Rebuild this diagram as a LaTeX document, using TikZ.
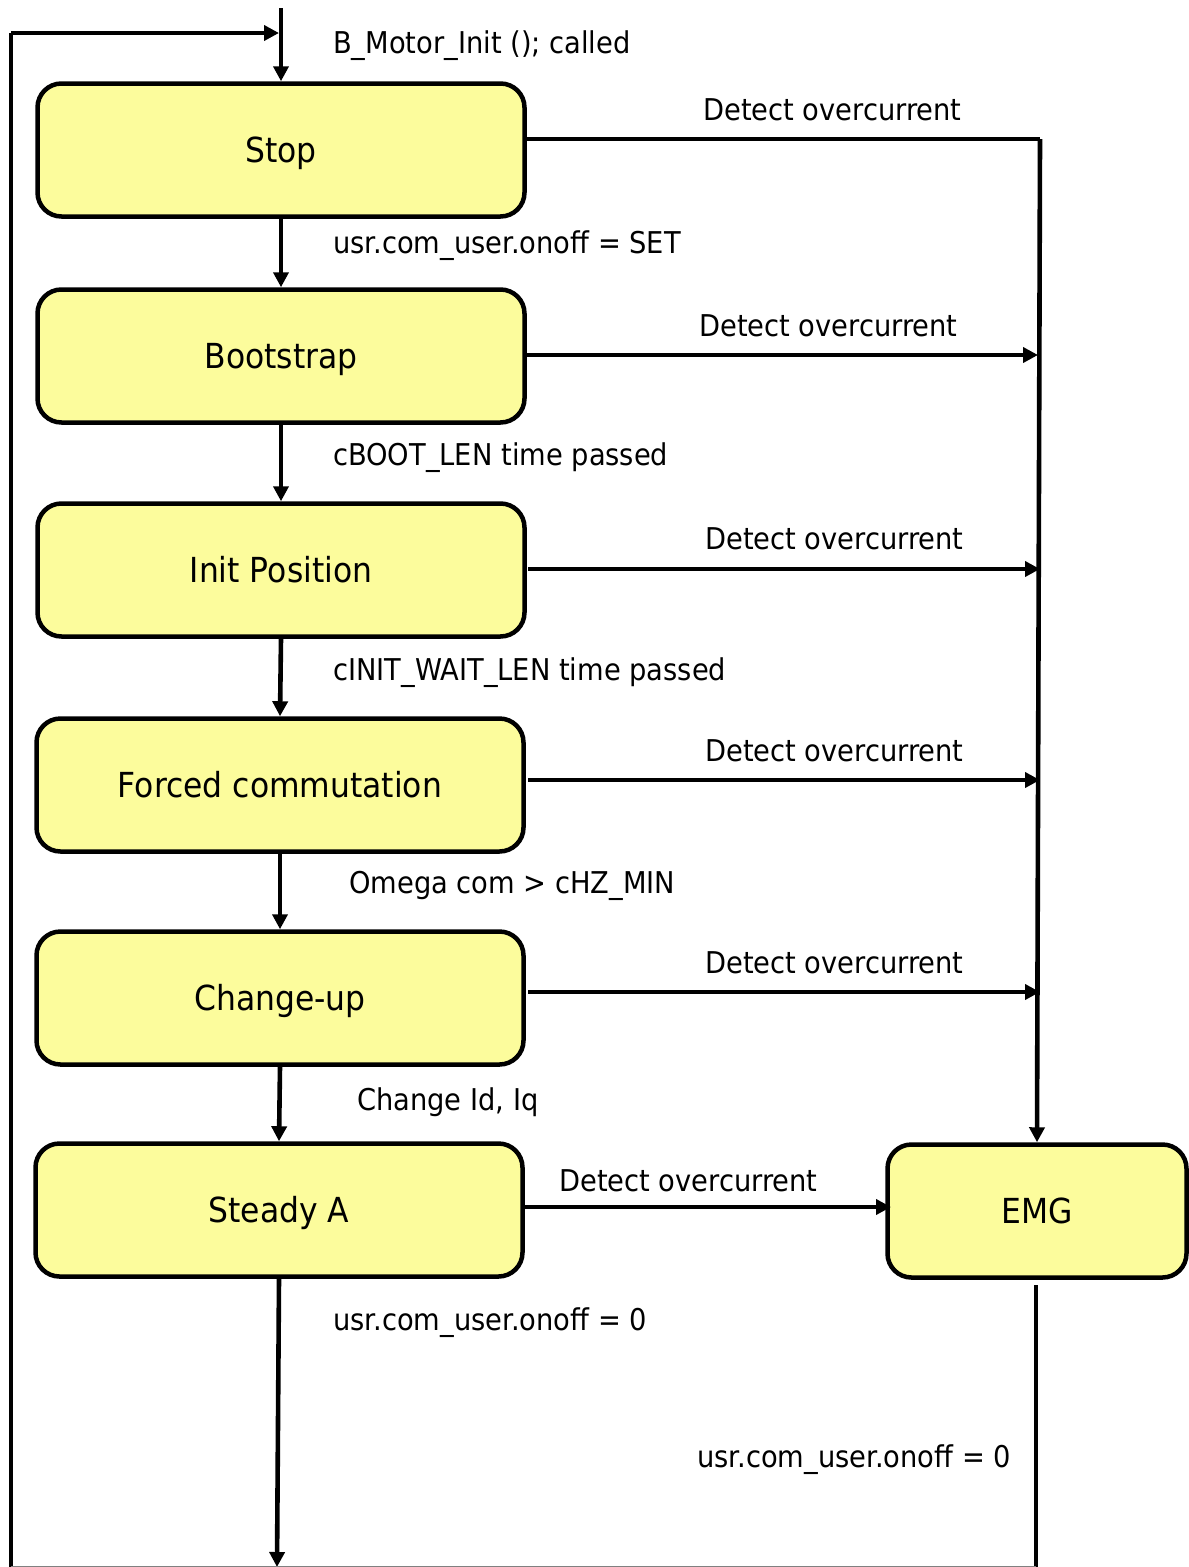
\documentclass[tikz,border=0pt]{standalone}
\usepackage{fontspec}
\setmainfont{DejaVu Sans}[FakeStretch=0.91]
\usetikzlibrary{arrows.meta}
\definecolor{boxfill}{HTML}{FCFC9C}
\tikzset{
  state/.style={draw=black, line width=4.5pt, fill=boxfill, rounded corners=24pt,
    minimum width=487pt, minimum height=133pt, inner sep=0pt,
    text height=25pt, text depth=0pt,
    font=\fontsize{34.5}{40}\selectfont},
  lbl/.style={anchor=west, inner sep=0pt, font=\fontsize{30}{36}\selectfont},
  conn/.style={line width=4.6pt, -{Triangle[length=15pt,width=15pt]}},
  plain/.style={line width=4.6pt},
}
\begin{document}
\begin{tikzpicture}[x=1pt,y=-1pt]
\useasboundingbox (0,0) rectangle (1189,1567);
% states
\node[state] (stop)   at (281,150)  {Stop};
\node[state] (boot)   at (281,356)  {Bootstrap};
\node[state] (init)   at (281,570)  {Init Position};
\node[state] (forced) at (280,785)  {Forced commutation};
\node[state] (chg)    at (280,998)  {Change-up};
\node[state] (steady) at (279,1210) {Steady A};
\node[state, minimum width=299pt] (emg) at (1037,1211) {EMG};
% coordinates
\coordinate (entry) at (281,8);
\coordinate (loopB) at (11,1567);
\coordinate (loopT) at (11,33);
\coordinate (join)  at (279,33);
\coordinate (busS)  at (1040,139);
\coordinate (bus1)  at (1038,355);
\coordinate (bus2)  at (1040,569);
\coordinate (bus3)  at (1040,780);
\coordinate (bus4)  at (1040,992);
\coordinate (stopR) at (527,139);
\coordinate (bootR) at (525,355);
\coordinate (initR) at (528,569);
\coordinate (forcR) at (528,780);
\coordinate (chgR)  at (528,992);
\coordinate (stdR)  at (523,1207);
\coordinate (emgL)  at (891,1207);
\coordinate (steadyB) at (277,1567);
\coordinate (emgB)  at (1036,1285);
\coordinate (emgE)  at (1036,1567);
% connectors
\draw[conn] (entry) -- (stop.north);
\draw[plain] (loopB) -- (loopT);
\draw[conn] (loopT) -- (join);
\draw[conn] (stop.south) -- (boot.north);
\draw[conn] (boot.south) -- (init.north);
\draw[conn] (init.south) -- (forced.north);
\draw[conn] (forced.south) -- (chg.north);
\draw[conn] (chg.south) -- (steady.north);
\draw[conn] (steady.south) -- (steadyB);
\draw[plain] (stopR) -- (busS);
\draw[conn] (busS) -- (emg.north);
\draw[conn] (bootR) -- (bus1);
\draw[conn] (initR) -- (bus2);
\draw[conn] (forcR) -- (bus3);
\draw[conn] (chgR) -- (bus4);
\draw[conn] (stdR) -- (emgL);
\draw[plain] (emgB) -- (emgE);
\draw[gray, line width=1.5pt] (loopB) -- (emgE);
% labels
\node[lbl] (l0) at (333,46) {B\_Motor\_Init (); called};
\node[lbl] (l1) at (703,110) {Detect overcurrent};
\node[lbl] (l2) at (333,246) {usr.com\_user.onoff = SET};
\node[lbl] (l3) at (699,326) {Detect overcurrent};
\node[lbl] (l4) at (333,458) {cBOOT\_LEN time passed};
\node[lbl] (l5) at (705,539) {Detect overcurrent};
\node[lbl] (l6) at (333,673) {cINIT\_WAIT\_LEN time passed};
\node[lbl] (l7) at (705,751) {Detect overcurrent};
\node[lbl] (l8) at (349,886) {Omega com > cHZ\_MIN};
\node[lbl] (l9) at (705,963) {Detect overcurrent};
\node[lbl] (l10) at (357,1102) {Change Id, Iq};
\node[lbl] (l11) at (559,1181) {Detect overcurrent};
\node[lbl] (l12) at (333,1323) {usr.com\_user.onoff = 0};
\node[lbl] (l13) at (697,1460) {usr.com\_user.onoff = 0};
\end{tikzpicture}
\end{document}
